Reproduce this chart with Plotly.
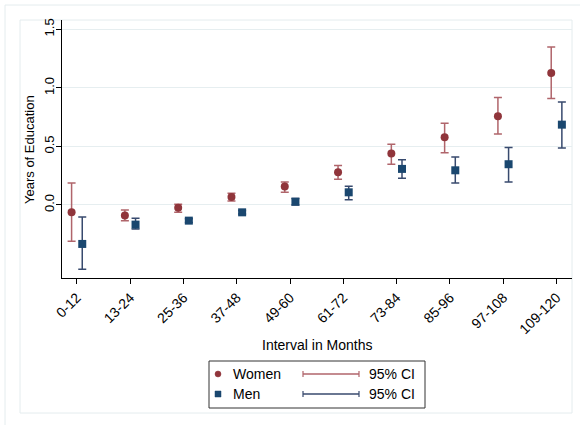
import plotly.graph_objects as go

categories = ["0-12", "13-24", "25-36", "37-48", "49-60", "61-72", "73-84", "85-96", "97-108", "109-120"]
women = [-0.063, -0.091, -0.023, 0.068, 0.157, 0.279, 0.439, 0.578, 0.758, 1.128]
women_lo = [-0.310, -0.134, -0.063, 0.034, 0.108, 0.220, 0.348, 0.447, 0.607, 0.909]
women_hi = [0.188, -0.043, 0.006, 0.100, 0.197, 0.336, 0.519, 0.698, 0.917, 1.350]
men = [-0.333, -0.168, -0.134, -0.063, 0.028, 0.108, 0.308, 0.296, 0.348, 0.686]
men_lo = [-0.550, -0.205, -0.150, -0.078, 0.000, 0.045, 0.228, 0.188, 0.197, 0.487]
men_hi = [-0.103, -0.114, -0.118, -0.048, 0.055, 0.160, 0.387, 0.410, 0.490, 0.880]
y_ticks = [0.0, 0.5, 1.0, 1.5]

W, H = 580, 425
L, R, T, B = 62, 572, 20, 278  # plot area in pixels

def px(x):
    return (x - L) / (R - L)

def py(y):
    return (B - y) / (B - T)

FONT = "Liberation Sans, Arial, Helvetica, sans-serif"
W_COL = "#90353b"
W_CI = "#b0656b"
M_COL = "#1a476f"
M_CI = "#384a6e"

idx = list(range(len(categories)))
fig = go.Figure()
fig.add_trace(go.Scatter(
    x=[i - 0.1 for i in idx], y=women, mode="markers",
    marker=dict(symbol="circle", size=8, color=W_COL),
    error_y=dict(type="data", symmetric=False,
                 array=[h - v for h, v in zip(women_hi, women)],
                 arrayminus=[v - l for v, l in zip(women, women_lo)],
                 color=W_CI, thickness=1.5, width=4),
    showlegend=False, name="Women"))
fig.add_trace(go.Scatter(
    x=[i + 0.1 for i in idx], y=men, mode="markers",
    marker=dict(symbol="square", size=8, color=M_COL),
    error_y=dict(type="data", symmetric=False,
                 array=[h - v for h, v in zip(men_hi, men)],
                 arrayminus=[v - l for v, l in zip(men, men_lo)],
                 color=M_CI, thickness=1.5, width=4),
    showlegend=False, name="Men"))

shapes = []
frame = "#e4ecee"
# outer graph frame
shapes.append(dict(type="rect", xref="paper", yref="paper",
                   x0=px(5), x1=px(590), y0=py(430), y1=py(5),
                   line=dict(color=frame, width=1), layer="below"))
# inner frame
shapes.append(dict(type="rect", xref="paper", yref="paper",
                   x0=px(20), x1=px(572), y0=py(413), y1=py(20),
                   line=dict(color=frame, width=1), layer="below"))
# legend box
shapes.append(dict(type="rect", xref="paper", yref="paper",
                   x0=px(209), x1=px(425), y0=py(408), y1=py(361),
                   line=dict(color="#333333", width=1), fillcolor="white"))
# legend markers
shapes.append(dict(type="circle", xref="paper", yref="paper",
                   x0=px(215), x1=px(221), y0=py(377), y1=py(371),
                   line=dict(color=W_COL, width=0.5), fillcolor=W_COL))
shapes.append(dict(type="rect", xref="paper", yref="paper",
                   x0=px(215), x1=px(221), y0=py(397), y1=py(391),
                   line=dict(color=M_COL, width=0.5), fillcolor=M_COL))
# legend CI symbols
for yy, col in [(374, W_CI), (394, M_CI)]:
    shapes.append(dict(type="line", xref="paper", yref="paper",
                       x0=px(303), x1=px(359), y0=py(yy), y1=py(yy),
                       line=dict(color=col, width=1.5)))
    for xx in (303, 359):
        shapes.append(dict(type="line", xref="paper", yref="paper",
                           x0=px(xx), x1=px(xx), y0=py(yy - 3), y1=py(yy + 3),
                           line=dict(color=col, width=1.2)))

annotations = [
    dict(text="Years of Education", xref="paper", yref="paper",
         x=px(29), y=py(150), textangle=-90, showarrow=False,
         xanchor="center", yanchor="middle", font=dict(size=13, color="black", family=FONT)),
    dict(text="Interval in Months", xref="paper", yref="paper",
         x=px(317), y=py(345), showarrow=False,
         xanchor="center", yanchor="middle", font=dict(size=14, color="black", family=FONT)),
]
for txt, xx, yy in [("Women", 231, 374), ("Men", 231, 394), ("95% CI", 367, 374), ("95% CI", 367, 394)]:
    annotations.append(dict(text=txt, xref="paper", yref="paper", x=px(xx), y=py(yy),
                            showarrow=False, xanchor="left", yanchor="middle",
                            font=dict(size=14, color="black", family=FONT)))

fig.update_layout(
    width=W, height=H,
    margin=dict(l=L, r=W - R, t=T, b=H - B, pad=0),
    paper_bgcolor="white", plot_bgcolor="white",
    font=dict(family=FONT, color="black"),
    shapes=shapes, annotations=annotations,
    xaxis=dict(range=[-0.28, 9.29], tickvals=idx, ticktext=categories,
               tickangle=-45, ticks="outside", ticklen=5, tickcolor="black",
               showline=True, linecolor="black", linewidth=1,
               showgrid=False, zeroline=False,
               tickfont=dict(size=14, family=FONT, color="black")),
    yaxis=dict(range=[-0.624, 1.58], tickvals=y_ticks, tickformat=".1f",
               tickangle=-90, ticks="outside", ticklen=5, tickcolor="black",
               ticklabelstandoff=-3,
               showline=True, linecolor="black", linewidth=1,
               showgrid=True, gridcolor="#e6eef0", gridwidth=1, zeroline=False,
               tickfont=dict(size=13, family=FONT, color="black")),
)

fig.write_html("out.html")
